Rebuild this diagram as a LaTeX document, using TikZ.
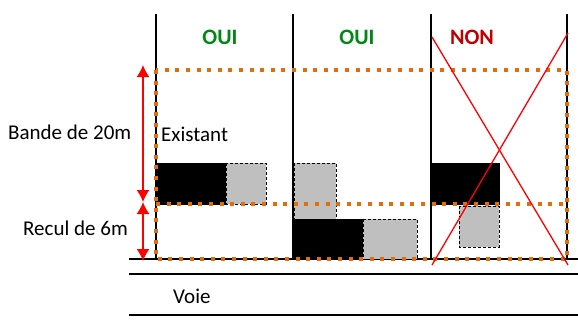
\documentclass[tikz,border=0pt]{standalone}
\usepackage{fontspec}
\setmainfont{Carlito}
\usetikzlibrary{arrows.meta}
\definecolor{okgreen}{RGB}{0,135,20}
\definecolor{nored}{RGB}{192,0,0}
\definecolor{bandorange}{RGB}{228,108,10}
\definecolor{newgrey}{RGB}{191,191,191}
\tikzset{
  lbl/.style={inner sep=0pt, font=\fontsize{21}{25}\selectfont},
  verdict/.style={inner sep=0pt, font=\fontsize{22}{26}\selectfont\bfseries},
  wall/.style={draw=black, line width=1.2pt},
  existing/.style={fill=black, draw=black, line width=0.6pt},
  project/.style={fill=newgrey, draw=black, dashed, dash pattern=on 3pt off 2pt, line width=1pt},
  band/.style={draw=bandorange, line width=4pt, dash pattern=on 4pt off 6.6pt},
  dim/.style={draw=red, line width=1.3pt, {Latex[length=12pt,width=13pt]}-{Latex[length=12pt,width=13pt]}},
  cross/.style={draw=red, line width=1.3pt}
}
\begin{document}
\begin{tikzpicture}[x=1pt,y=-1pt]
\useasboundingbox (0,0) rectangle (578,322);
% road lines
\coordinate (g0) at (129,259); \coordinate (g1) at (578,259);
\coordinate (r0) at (129,274); \coordinate (r1) at (578,274);
\coordinate (s0) at (129,315); \coordinate (s1) at (578,315);
\draw[line width=1.2pt] (g0) -- (g1);
\draw[line width=1.2pt] (r0) -- (r1);
\draw[line width=1.2pt] (s0) -- (s1);
% column walls
\foreach \x/\n in {156/a,293/b,431/c,567/d}{
  \coordinate (w\n t) at (\x,14);
  \coordinate (w\n b) at (\x,259);
  \draw[wall] (w\n t) -- (w\n b);
}
% buildings column 1
\draw[existing] (157,163) rectangle (226,204);
\draw[project] (226,163) rectangle (266,204);
% column 2
\draw[project] (294,163) rectangle (336,219);
\draw[existing] (293.6,219) rectangle (363,259);
\draw[project] (363,219) rectangle (417,259);
% column 3
\draw[existing] (432,163) rectangle (499,204);
\draw[project] (459,206) rectangle (499,247);
% band
\draw[band] (156,70) rectangle (567,259);
\coordinate (m0) at (156,204); \coordinate (m1) at (567,204);
\draw[band] (m0) -- (m1);
% dimensions
\coordinate (d0) at (143,65); \coordinate (d1) at (143,202); \coordinate (d2) at (143,261);
\draw[dim] (d0) -- (d1);
\draw[dim] (d1) -- (d2);
% cross
\coordinate (x0) at (432,37); \coordinate (x1) at (568,265);
\coordinate (x2) at (568,33); \coordinate (x3) at (432,265);
\draw[cross] (x0) -- (x1);
\draw[cross] (x2) -- (x3);
% texts
\node[lbl, anchor=west] (bande) at (8,132) {Bande de 20m};
\node[lbl, anchor=west] (recul) at (23,228) {Recul de 6m};
\node[lbl, anchor=west] (exist) at (161,134) {Existant};
\node[lbl, anchor=west] (voie) at (173,296) {Voie};
\node[verdict, text=okgreen] (oui1) at (220,37) {OUI};
\node[verdict, text=okgreen] (oui2) at (357,37) {OUI};
\node[verdict, text=nored] (non) at (472,37) {NON};
\end{tikzpicture}
\end{document}
